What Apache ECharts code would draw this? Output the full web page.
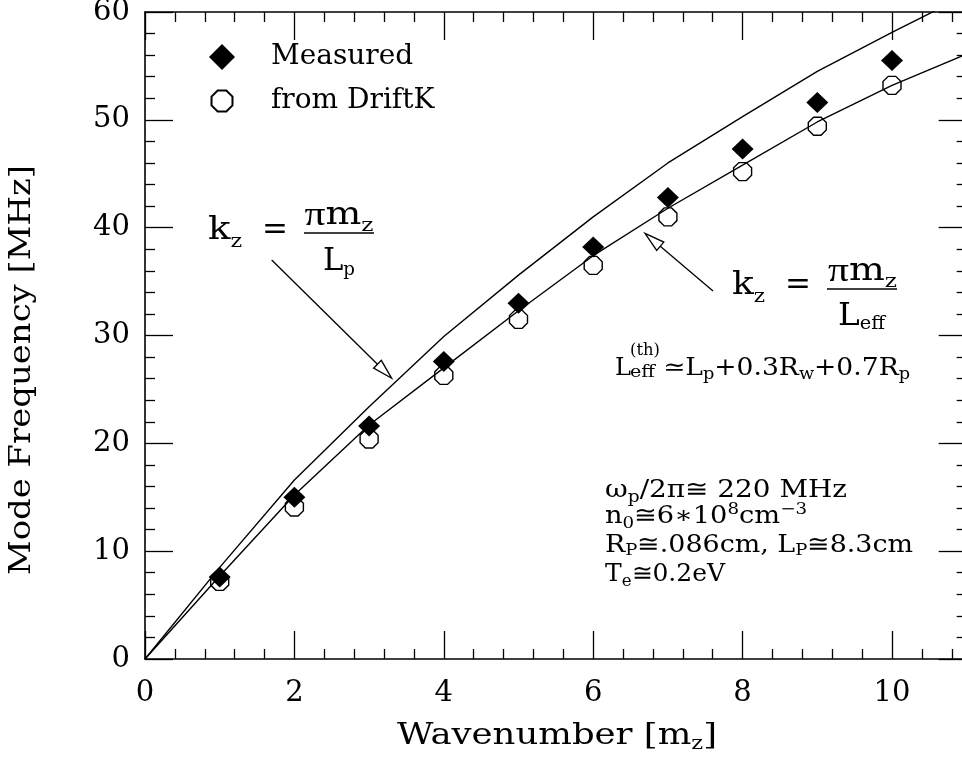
<!DOCTYPE html>
<html><head><meta charset="utf-8">
<script src="https://cdn.jsdelivr.net/npm/echarts@6/dist/echarts.min.js"></script>
<style>html,body{margin:0;padding:0;background:#fff}#c{width:962px;height:759px}</style>
</head><body><div id="c"></div>
<script>
// ---- data ----
const modes = [1, 2, 3, 4, 5, 6, 7, 8, 9, 10];
const measured = [7.6, 15.0, 21.6, 27.6, 33.0, 38.2, 42.8, 47.3, 51.6, 55.5];
const driftK = [7.2, 14.1, 20.4, 26.3, 31.5, 36.5, 41.0, 45.2, 49.4, 53.2];
const curveX = [0, 1, 2, 3, 4, 5, 6, 7, 8, 9, 10, 11];
const curveLp = [0, 8.5, 16.6, 23.4, 29.9, 35.6, 41.0, 46.0, 50.3, 54.5, 58.1, 61.6];
const curveLeff = [0, 7.7, 15.2, 21.7, 27.0, 32.3, 37.4, 41.8, 45.8, 49.8, 53.2, 56.1];
const xTicks = [0, 2, 4, 6, 8, 10];
const yTicks = [0, 10, 20, 30, 40, 50, 60];
const legendNames = ['Measured', 'from DriftK'];

const FONT = 'DejaVu Serif';
const PIFONT = 'Liberation Serif';
const OCT = 'path://M2.93,0 L7.07,0 L10,2.93 L10,7.07 L7.07,10 L2.93,10 L0,7.07 L0,2.93 Z';
const OCT_LEG = 'path://M-1.2,-1.2 L-1.2,-1.2 M11.2,11.2 L11.2,11.2 M2.93,0 L7.07,0 L10,2.93 L10,7.07 L7.07,10 L2.93,10 L0,7.07 L0,2.93 Z';

const mctx = document.createElement('canvas').getContext('2d');
function measureRich(str, S, s) {
  let w = 0, last = 0, m;
  const re = /\{(\w+)\|([^}]*)\}/g;
  const meas = (t, sz, fam) => { mctx.font = sz + 'px "' + (fam || FONT) + '"'; return mctx.measureText(t).width; };
  while ((m = re.exec(str))) {
    if (m.index > last) w += meas(str.slice(last, m.index), S);
    if (m[1] === 'q') w += meas(m[2], S * 1.1, PIFONT);
    else w += meas(m[2], s);
    last = re.lastIndex;
  }
  if (last < str.length) w += meas(str.slice(last), S);
  return w;
}
function rt(str, x, base, S, s, align, target, d, u, extra) {
  const dd = d == null ? 5 : d, uu = u == null ? 9 : u;
  const hb = Math.max(2, 0.308 * S + 0.692 * s - 2 * dd);
  const hp = Math.max(2, S + 0.692 * S - 0.692 * s - 2 * uu);
  const sc = target ? target / measureRich(str, S, s) : 1;
  return Object.assign({
    type: 'text', x: x, y: base - 0.346 * S, scaleX: sc, z: 100,
    style: {
      text: str, fontFamily: FONT, fontSize: S, lineHeight: S, fill: '#000',
      align: align, textAlign: align, verticalAlign: 'middle', textVerticalAlign: 'middle',
      rich: {
        b: { fontFamily: FONT, fontSize: s, height: hb, lineHeight: hb, verticalAlign: 'bottom', fill: '#000' },
        p: { fontFamily: FONT, fontSize: s, height: hp, lineHeight: hp, verticalAlign: 'top', fill: '#000' },
        q: { fontFamily: PIFONT, fontSize: S * 1.1, lineHeight: S, fill: '#000' }
      }
    }
  }, extra || {});
}
function hline(x1, x2, y) {
  return { type: 'line', z: 100, shape: { x1: x1, y1: y, x2: x2, y2: y }, style: { stroke: '#000', lineWidth: 1.4 } };
}
function arrow(x1, y1, x2, y2) {
  const L = 20, W = 5.5;
  const dx = x2 - x1, dy = y2 - y1, len = Math.hypot(dx, dy);
  const ux = dx / len, uy = dy / len;
  const bx = x2 - ux * L, by = y2 - uy * L;
  return [
    { type: 'line', z: 100, shape: { x1: x1, y1: y1, x2: bx, y2: by }, style: { stroke: '#000', lineWidth: 1.3 } },
    { type: 'polygon', z: 100, shape: { points: [[x2, y2], [bx - uy * W, by + ux * W], [bx + uy * W, by - ux * W]] },
      style: { fill: '#fff', stroke: '#000', lineWidth: 1.3 } }
  ];
}

const chart = echarts.init(document.getElementById('c'), null, { renderer: 'canvas' });

const axisCommon = {
  type: 'value',
  axisLine: { show: true, onZero: false, lineStyle: { color: '#000', width: 1.6 } },
  axisTick: { show: true, inside: true, length: 28, lineStyle: { color: '#000', width: 1.3 } },
  minorTick: { show: true, splitNumber: 5, length: 10, lineStyle: { color: '#000', width: 1.3 } },
  splitLine: { show: false },
  minorSplitLine: { show: false }
};
const xBase = Object.assign({}, axisCommon, {
  min: xTicks[0], max: 12, interval: xTicks[1] - xTicks[0]
});
const yBase = Object.assign({}, axisCommon, {
  min: yTicks[0], max: yTicks[yTicks.length - 1], interval: yTicks[1] - yTicks[0]
});

const graphics = [].concat(
  // axis titles
  [rt('Wavenumber [m{b|z}]', 557, 747, 30, 19, 'center', 320, 4)],
  [{
    type: 'text', x: 22.6, y: 370, rotation: Math.PI / 2, z: 100,
    scaleX: 410 / measureRich('Mode Frequency [MHz]', 30, 19),
    style: { text: 'Mode Frequency [MHz]', fontFamily: FONT, fontSize: 30, fill: '#000',
      align: 'center', textAlign: 'center', verticalAlign: 'middle', textVerticalAlign: 'middle' }
  }],
  // formula k_z = pi m_z / L_p
  [rt('k{b|z}', 208, 242, 32, 19, 'left', 34, 7),
   rt('=', 275, 242, 31, 19, 'center'),
   rt('{q|π}m{b|z}', 339, 227, 31, 19, 'center', 69, 6),
   hline(304, 374, 233),
   rt('L{b|p}', 339, 273, 32, 19, 'center', 32, 4)],
  arrow(271.7, 260, 391.7, 378.3),
  // formula k_z = pi m_z / L_eff
  [rt('k{b|z}', 732, 297, 32, 19, 'left', 33, 7),
   rt('=', 798, 297, 31, 19, 'center'),
   rt('{q|π}m{b|z}', 862.5, 283, 31, 19, 'center', 69, 6),
   hline(827, 897, 289),
   rt('L{b|eff}', 861.5, 328, 32, 19, 'center', 47, 3)],
  arrow(713, 291, 645, 233.3),
  // L_eff^(th) expression
  [rt('L', 615, 377, 24, 16, 'left'),
   rt('(th)', 630, 356, 16, 12, 'left', 30),
   rt('eff', 630, 378, 16, 12, 'left', 25),
   rt('≃L{b|p}+0.3R{b|w}+0.7R{b|p}', 663, 377, 24, 16, 'left', 247, 3)],
  // parameter block
  [rt('ω{b|p}/2π≅ 220 MHz', 605, 499, 24, 16, 'left', 242, 4),
   rt('n{b|0}≅6∗10{p|8}cm{p|−3}', 605, 525, 24, 16, 'left', 202, 4, 10),
   rt('R{b|P}≅.086cm, L{b|P}≅8.3cm', 605, 554, 24, 16, 'left', 308, 2),
   rt('T{b|e}≅0.2eV', 605, 583, 24, 16, 'left', 120, 4)]
);

chart.setOption({
  animation: false,
  backgroundColor: '#fff',
  grid: { left: 145, top: 12, width: 896.4, height: 647, containLabel: false, outerBoundsMode: 'none' },
  legend: {
    show: true, orient: 'vertical', left: 208, top: 43, padding: 0,
    itemWidth: 26, itemHeight: 26, itemGap: 16, selectedMode: false,
    data: [{ name: legendNames[0], icon: 'diamond' }, { name: legendNames[1], icon: OCT_LEG }],
    textStyle: { fontFamily: FONT, fontSize: 28, color: '#000', padding: [0, 0, 0, 31] }
  },
  xAxis: [
    Object.assign({}, xBase, {
      position: 'bottom',
      axisLabel: { show: true, margin: 20, color: '#000', fontFamily: FONT, fontSize: 29,
        formatter: v => (xTicks.indexOf(v) >= 0 ? String(v) : '') }
    }),
    Object.assign({}, xBase, { position: 'top', axisLabel: { show: false } })
  ],
  yAxis: [
    Object.assign({}, yBase, {
      position: 'left',
      axisLabel: { show: true, margin: 15, color: '#000', fontFamily: FONT, fontSize: 29,
        formatter: v => (yTicks.indexOf(v) >= 0 ? String(v) : '') }
    }),
    Object.assign({}, yBase, { position: 'right', offset: -74.7, axisLabel: { show: false } })
  ],
  series: [
    { type: 'line', name: 'Lp', data: curveX.map((x, i) => [x, curveLp[i]]), symbol: 'none',
      lineStyle: { color: '#000', width: 1.4 }, silent: true, clip: true, z: 2 },
    { type: 'line', name: 'Leff', data: curveX.map((x, i) => [x, curveLeff[i]]), symbol: 'none',
      lineStyle: { color: '#000', width: 1.4 }, silent: true, clip: true, z: 2 },
    { type: 'scatter', name: legendNames[1], data: modes.map((m, i) => [m, driftK[i]]),
      symbol: OCT, symbolSize: 18,
      itemStyle: { color: 'rgba(255,255,255,0)', borderColor: '#000', borderWidth: 1.4, opacity: 1 }, z: 3 },
    { type: 'scatter', name: legendNames[0], data: modes.map((m, i) => [m, measured[i]]),
      symbol: 'diamond', symbolSize: [22, 21], itemStyle: { color: '#000', opacity: 1 }, z: 4 }
  ],
  graphic: graphics
});
</script>
</body></html>
